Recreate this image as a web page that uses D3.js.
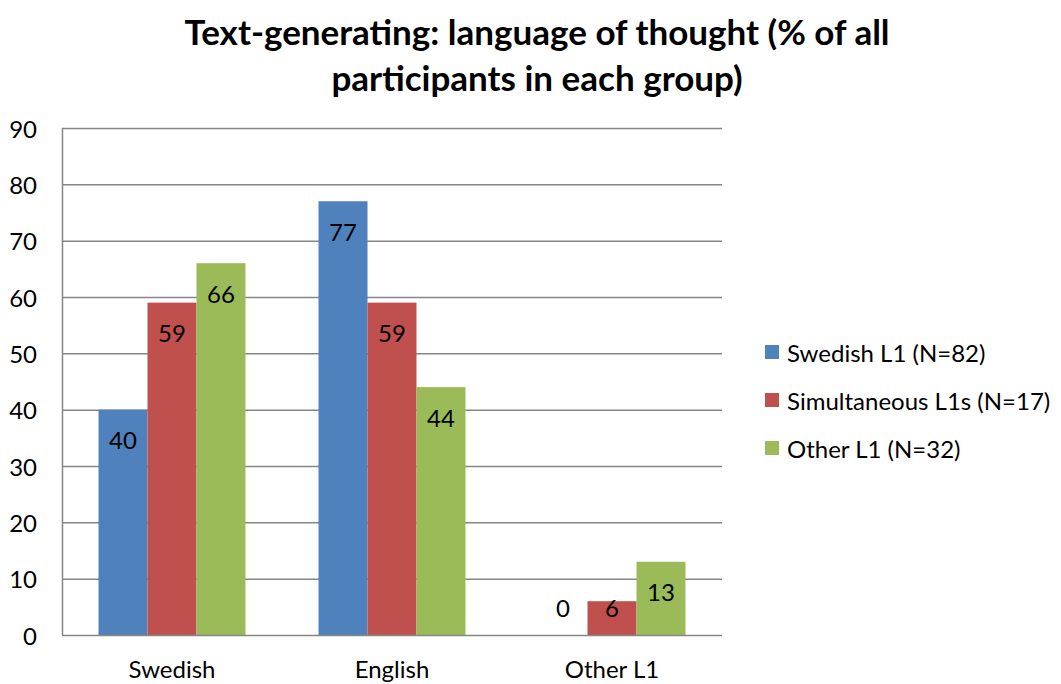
<!DOCTYPE html>
<html><head><meta charset="utf-8">
<script src="https://cdn.jsdelivr.net/npm/d3@7"></script>
<style>body{margin:0;background:#fff}svg{display:block}text{font-family:Lato,"Open Sans",sans-serif}</style>
</head><body><svg id="c" width="1061" height="684"></svg>
<script>
const categories = ["Swedish", "English", "Other L1"];
const seriesNames = ["Swedish L1 (N=82)", "Simultaneous L1s (N=17)", "Other L1 (N=32)"];
const swedishL1 = [40, 77, 0];
const simultaneousL1s = [59, 59, 6];
const otherL1 = [66, 44, 13];
const colors = ["#4F81BD", "#C0504D", "#9BBB59"];
const yTicks = [0,10,20,30,40,50,60,70,80,90];
const titleLines = ["Text-generating: language of thought (% of all", "participants in each group)"];

const series = [swedishL1, simultaneousL1s, otherL1];
const svg = d3.select("#c");
const L = 62, R = 722, T = 128, B = 635;
const FS = 24;
const x = d3.scaleBand().domain(categories).range([L, R]).paddingInner(0.332).paddingOuter(0.166);
const xs = d3.scaleBand().domain(d3.range(3)).range([0, x.bandwidth()]);
const y = d3.scaleLinear().domain([0, 90]).range([B, T]);

// gridlines
svg.append("g").selectAll("line").data(yTicks.filter(d=>d>0)).join("line")
  .attr("x1", L).attr("x2", R).attr("y1", d=>y(d)+0.5).attr("y2", d=>y(d)+0.5)
  .attr("stroke", "#868686").attr("stroke-width", 1.5);

// bars
series.forEach((s, si) => {
  svg.append("g").selectAll("rect").data(s).join("rect")
    .attr("x", (d,i)=>x(categories[i]) + xs(si))
    .attr("width", xs.bandwidth())
    .attr("y", d=>y(d)).attr("height", d=>B - y(d))
    .attr("fill", colors[si]);
});

// axes lines
svg.append("line").attr("x1", L+0.5).attr("x2", L+0.5).attr("y1", T).attr("y2", B).attr("stroke", "#868686").attr("stroke-width", 1.5);
svg.append("line").attr("x1", L).attr("x2", R).attr("y1", B+0.5).attr("y2", B+0.5).attr("stroke", "#868686").attr("stroke-width", 1.5);

// data labels
series.forEach((s, si) => {
  svg.append("g").selectAll("text").data(s).join("text")
    .attr("x", (d,i)=>x(categories[i]) + xs(si) + xs.bandwidth()/2)
    .attr("y", d => (B - y(d) >= 60 ? y(d) + 30 : B - 28))
    .attr("text-anchor", "middle").attr("dominant-baseline", "central")
    .attr("font-size", FS).attr("fill", "#000").text(d=>d);
});

// y tick labels
svg.append("g").selectAll("text").data(yTicks).join("text")
  .attr("x", 37).attr("y", d=>y(d)).attr("text-anchor", "end").attr("dominant-baseline", "central")
  .attr("font-size", FS).attr("fill", "#000").text(d=>d);

// x labels
svg.append("g").selectAll("text").data(categories).join("text")
  .attr("x", d=>x(d)+x.bandwidth()/2).attr("y", 668).attr("text-anchor", "middle").attr("dominant-baseline", "central")
  .attr("font-size", FS).attr("fill", "#000").text(d=>d);

// title
svg.append("g").selectAll("text").data(titleLines).join("text")
  .attr("x", 537).attr("y", (d,i)=>31 + i*46).attr("text-anchor", "middle").attr("dominant-baseline", "central")
  .attr("font-size", 35).attr("font-weight", "bold").attr("fill", "#000").text(d=>d);

// legend
const lg = svg.append("g").selectAll("g").data(seriesNames).join("g")
  .attr("transform", (d,i)=>`translate(765,${352 + i*48})`);
lg.append("rect").attr("x", 0).attr("y", -7).attr("width", 14).attr("height", 14).attr("fill", (d,i)=>colors[i]);
lg.append("text").attr("x", 22).attr("y", 0).attr("dominant-baseline", "central").attr("font-size", FS).attr("fill", "#000").text(d=>d);
</script></body></html>
